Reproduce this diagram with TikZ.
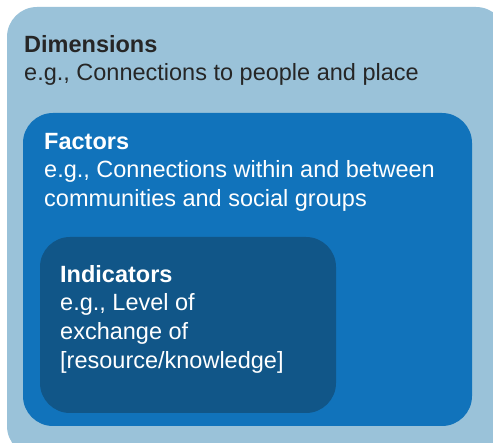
\documentclass[tikz,border=0pt]{standalone}
\usepackage{fontspec}
\setmainfont{Liberation Sans}
\usetikzlibrary{positioning}
\definecolor{outerblue}{HTML}{9AC2D9}
\definecolor{midblue}{HTML}{1173BB}
\definecolor{innerblue}{HTML}{115688}
\begin{document}
\begin{tikzpicture}[x=1pt, y=-1pt,
  box/.style={rounded corners=30pt},
  label text/.style={anchor=north west, inner sep=0pt, align=left, font=\fontsize{23.5}{28.6}\selectfont}]
\useasboundingbox (0,0) rectangle (493,443);
\clip (0,0) rectangle (493,443);
% nested boxes
\fill[box, outerblue] (7,7) rectangle (506,456);
\fill[box, midblue] (23,113) rectangle (472,426);
\fill[box, innerblue] (40,237) rectangle (336,413);
% texts
\node[label text, text=black!85] (dim) at (24,35) {\textbf{Dimensions}\\e.g., Connections to people and place};
\node[label text, text=white] (fac) at (44,133) {\textbf{Factors}\\e.g., Connections within and between\\communities and social groups};
\node[label text, text=white] (ind) at (60,265) {\textbf{Indicators}\\e.g., Level of\\exchange of\\{[}resource/knowledge{]}};
\end{tikzpicture}
\end{document}
